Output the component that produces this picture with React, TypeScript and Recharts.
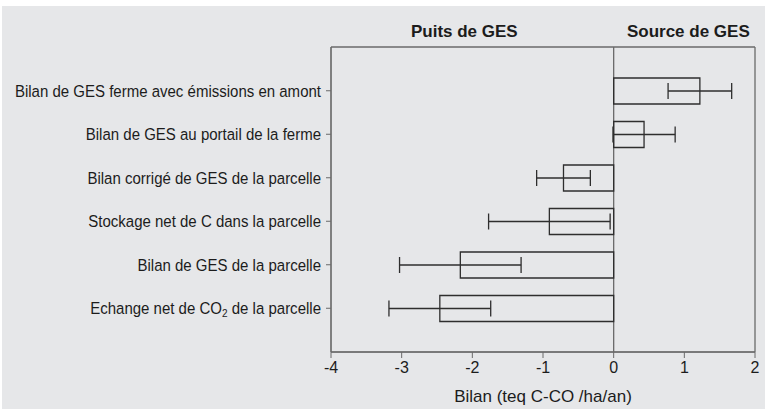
import React from 'react';
import { BarChart, Bar, XAxis, YAxis, CartesianGrid, ErrorBar, ReferenceArea } from 'recharts';

const categories = [
  'Bilan de GES ferme avec émissions en amont',
  'Bilan de GES au portail de la ferme',
  'Bilan corrigé de GES de la parcelle',
  'Stockage net de C dans la parcelle',
  'Bilan de GES de la parcelle',
  'Echange net de CO2 de la parcelle',
];
const bilan = [1.22, 0.43, -0.71, -0.91, -2.17, -2.46];
const incertitude = [0.45, 0.44, 0.38, 0.86, 0.86, 0.72];
const xTicks = [-4, -3, -2, -1, 0, 1, 2];
const zoneLabels = ['Puits de GES', 'Source de GES'];
const xLabel = 'Bilan (teq C-CO /ha/an)';

const data = categories.map((c, i) => ({ name: c, bilan: bilan[i], err: incertitude[i] }));

const FONT = "'Liberation Sans', Arial, Helvetica, sans-serif";
const TEXT = '#1c1c1c';
const FRAME = '#6a6a6a';
const BAR = '#2e2e2e';

const YTick = (props: any) => {
  const { x, y, payload } = props;
  const label: string = String(payload.value);
  const idx = label.indexOf('CO2');
  return (
    <g transform={`translate(${x},${y})`}>
      <text
        transform="scale(0.91,1)"
        x={0}
        y={0}
        dy={6.2}
        textAnchor="end"
        fontSize={16.5}
        fill={TEXT}
        fontFamily={FONT}
      >
        {idx >= 0 ? (
          <>
            {label.slice(0, idx + 2)}
            <tspan fontSize={11} dy={3}>2</tspan>
            <tspan dy={-3}>{label.slice(idx + 3)}</tspan>
          </>
        ) : (
          label
        )}
      </text>
    </g>
  );
};

const makeZoneTitle = (shift: number) => (props: any) => {
  const vb = props.viewBox || {};
  return (
    <text
      x={vb.x + vb.width / 2 + shift}
      y={vb.y - 32}
      textAnchor="middle"
      fontSize={17}
      fontWeight="bold"
      fill={TEXT}
      fontFamily={FONT}
    >
      {props.value}
    </text>
  );
};

export default function App() {
  return (
    <div style={{ position: 'absolute', left: 0, top: 0, width: 765, height: 410, background: '#ffffff', fontFamily: FONT }}>
      <div style={{ position: 'absolute', left: 2, top: 6, width: 763, height: 403, background: '#e6e7e9' }} />
      <div style={{ position: 'absolute', left: 0, top: 0 }}>
        <BarChart
          width={765}
          height={410}
          data={data}
          layout="vertical"
          margin={{ top: 47, right: 10, bottom: 6, left: 0 }}
          barSize={26}
        >
          <CartesianGrid
            stroke={FRAME}
            strokeWidth={1.3}
            fill="none"
            verticalValues={[-4, 0, 2]}
            horizontalCoordinatesGenerator={(p: any) => [p.offset.top, p.offset.top + p.offset.height]}
          />
          <XAxis
            type="number"
            domain={[-4, 2]}
            ticks={xTicks}
            height={52}
            tickSize={6}
            tickMargin={4}
            stroke={FRAME}
            tick={{ fontSize: 16, fill: TEXT }}
            label={{ value: xLabel, position: 'insideBottom', offset: 2, fontSize: 17, fill: TEXT }}
          />
          <YAxis
            type="category"
            dataKey="name"
            width={331}
            tickSize={5}
            tickMargin={5}
            stroke={FRAME}
            interval={0}
            padding={{ top: 22, bottom: 22 }}
            tick={<YTick />}
          />
          <ReferenceArea
            x1={-4}
            x2={0}
            fill="none"
            stroke="none"
            ifOverflow="visible"
            label={{ value: zoneLabels[0], content: makeZoneTitle(-8) }}
          />
          <ReferenceArea
            x1={0}
            x2={2}
            fill="none"
            stroke="none"
            ifOverflow="visible"
            label={{ value: zoneLabels[1], content: makeZoneTitle(4) }}
          />
          <Bar dataKey="bilan" fill="none" stroke={BAR} strokeWidth={1.3} isAnimationActive={false}>
            <ErrorBar dataKey="err" direction="x" width={8} stroke={BAR} strokeWidth={1.3} />
          </Bar>
        </BarChart>
      </div>
    </div>
  );
}
